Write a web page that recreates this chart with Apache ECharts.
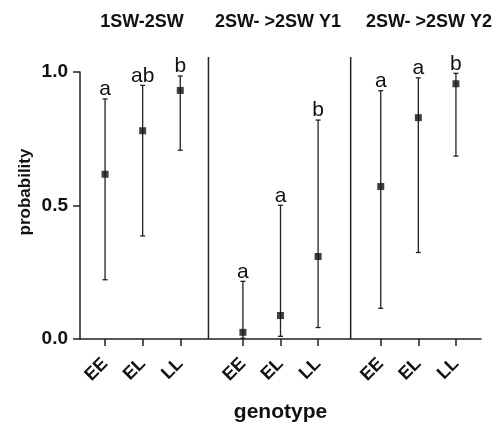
<!DOCTYPE html>
<html>
<head>
<meta charset="utf-8">
<script src="https://cdn.jsdelivr.net/npm/echarts@6/dist/echarts.min.js"></script>
<style>
  html, body { margin: 0; padding: 0; background: #fff; }
  #chart { width: 497px; height: 425px; }
</style>
</head>
<body>
<div id="chart"></div>
<script>
// data
const groups = ['1SW-2SW', '2SW- >2SW Y1', '2SW- >2SW Y2'];
const genotypes = ['EE', 'EL', 'LL'];
const estimate = [0.617, 0.780, 0.931, 0.025, 0.088, 0.309, 0.571, 0.829, 0.956];
const lower = [0.222, 0.386, 0.707, 0.003, 0.010, 0.043, 0.115, 0.324, 0.685];
const upper = [0.899, 0.950, 0.985, 0.216, 0.501, 0.820, 0.930, 0.978, 0.995];
const letters = ['a', 'ab', 'b', 'a', 'a', 'b', 'a', 'a', 'b'];
const yTicks = [0, 0.5, 1.0];

// layout on the x value axis: 3 genotypes per panel, panels separated by a line
const FONT = 'Liberation Sans, Arial, Helvetica, sans-serif';
const posOf = (g, i) => 2 + 11 * g + 3 * i;
const positions = [];
const labelOf = {};
groups.forEach((g, gi) => genotypes.forEach((c, ci) => {
    positions.push(posOf(gi, ci));
    labelOf[posOf(gi, ci)] = c;
}));
const separators = [10.25, 21.6];
const titleX = [142, 278, 429];

const chart = echarts.init(document.getElementById('chart'));

const option = {
    animation: false,
    textStyle: { fontFamily: FONT },
    grid: { left: 80, right: 16, top: 72, bottom: 86, outerBoundsMode: 'none', containLabel: false },
    xAxis: {
        type: 'value',
        min: 0,
        max: 32,
        name: 'genotype',
        nameLocation: 'middle',
        nameGap: 63,
        nameTextStyle: { fontSize: 21, fontWeight: 'bold', color: '#111', fontFamily: FONT },
        splitLine: { show: false },
        axisLine: { lineStyle: { color: '#222', width: 1.5 } },
        axisTick: { customValues: positions, length: 7, lineStyle: { color: '#222', width: 1.5 } },
        axisLabel: {
            customValues: positions,
            rotate: 45,
            margin: 22,
            fontSize: 18,
            fontWeight: 'bold',
            color: '#111',
            formatter: v => labelOf[Math.round(v)] || ''
        }
    },
    yAxis: {
        type: 'value',
        min: yTicks[0],
        max: yTicks[yTicks.length - 1],
        interval: 0.5,
        splitLine: { show: false },
        axisLine: { show: true, lineStyle: { color: '#222', width: 1.5 } },
        axisTick: { show: true, length: 7, lineStyle: { color: '#222', width: 1.5 } },
        axisLabel: {
            margin: 12,
            fontSize: 19,
            fontWeight: 'bold',
            color: '#111',
            formatter: v => v.toFixed(1)
        }
    },
    graphic: [
        {
            type: 'text', x: 25, y: 192, rotation: Math.PI / 2,
            style: { text: 'probability', font: 'bold 17px ' + FONT, fill: '#111', align: 'center', verticalAlign: 'middle' }
        }
    ].concat(groups.map((g, i) => ({
        type: 'text', x: titleX[i], y: 22,
        style: { text: g, font: 'bold 18px ' + FONT, fill: '#111', align: 'center', verticalAlign: 'middle' }
    }))),
    series: [
        {
            // panel separators
            type: 'custom',
            clip: false,
            silent: true,
            data: separators.map(s => [s]),
            renderItem: function (params, api) {
                const bottom = api.coord([api.value(0), 0]);
                const top = api.coord([api.value(0), 1]);
                return {
                    type: 'line',
                    shape: { x1: bottom[0], y1: bottom[1], x2: top[0], y2: top[1] - 15 },
                    style: { stroke: '#222', lineWidth: 1.5 }
                };
            }
        },
        {
            // confidence intervals with caps and letters
            type: 'custom',
            clip: false,
            data: positions.map((p, i) => [p, lower[i], upper[i], i]),
            renderItem: function (params, api) {
                const lo = api.coord([api.value(0), api.value(1)]);
                const hi = api.coord([api.value(0), api.value(2)]);
                const cap = 2.5;
                const st = { stroke: '#222', lineWidth: 1.3 };
                return {
                    type: 'group',
                    children: [
                        { type: 'line', shape: { x1: lo[0], y1: lo[1], x2: hi[0], y2: hi[1] }, style: st },
                        { type: 'line', shape: { x1: lo[0] - cap, y1: lo[1], x2: lo[0] + cap, y2: lo[1] }, style: st },
                        { type: 'line', shape: { x1: hi[0] - cap, y1: hi[1], x2: hi[0] + cap, y2: hi[1] }, style: st },
                        {
                            type: 'text', x: hi[0], y: hi[1] + 1,
                            style: {
                                text: letters[api.value(3)], font: '21px ' + FONT, fill: '#111',
                                align: 'center', verticalAlign: 'bottom'
                            }
                        }
                    ]
                };
            }
        },
        {
            type: 'scatter',
            symbol: 'rect',
            symbolSize: 7,
            itemStyle: { color: '#111' },
            data: positions.map((p, i) => [p, estimate[i]])
        }
    ]
};

chart.setOption(option);
</script>
</body>
</html>
